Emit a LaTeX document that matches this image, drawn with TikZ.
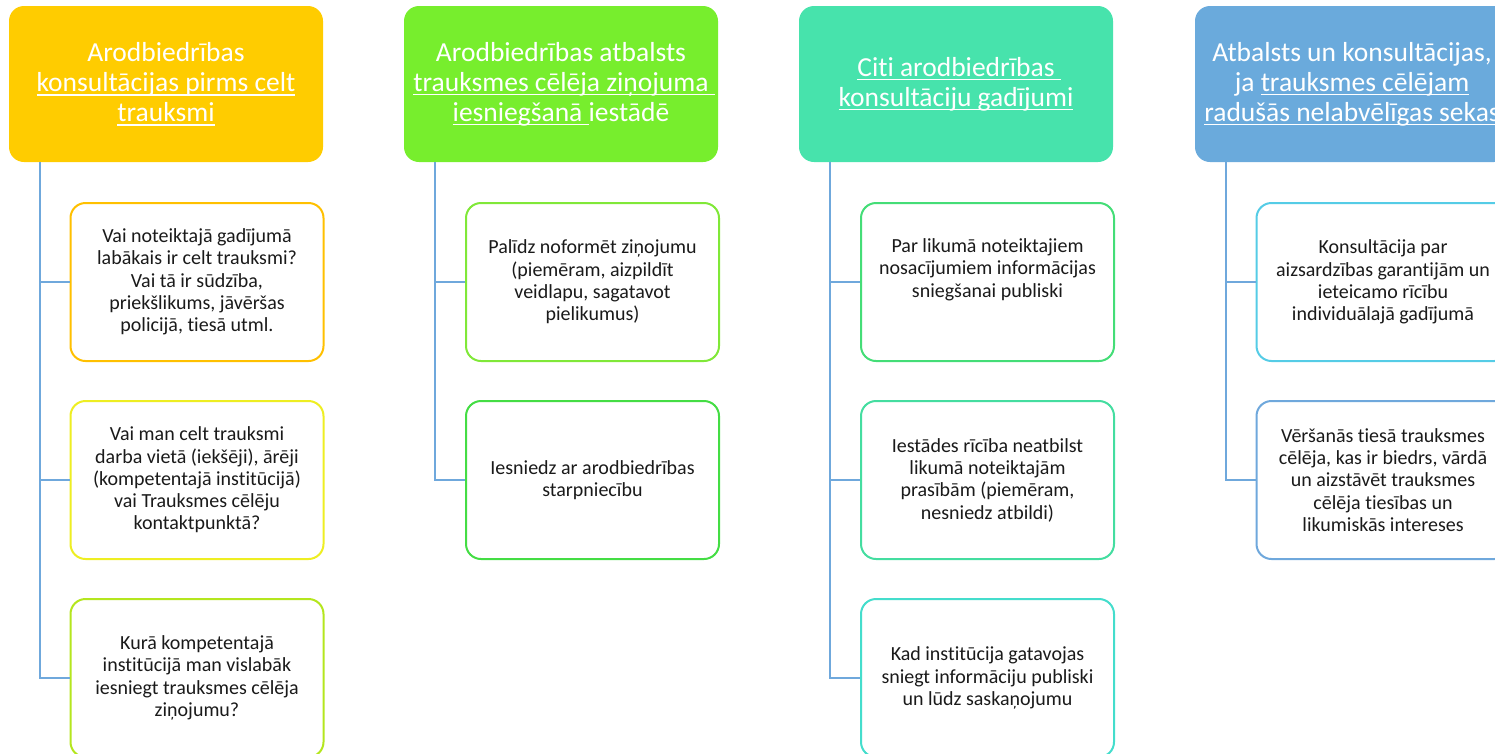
\documentclass[tikz,border=0pt]{standalone}
\usepackage{fontspec}
\setmainfont{Carlito}[Ligatures={NoCommon,NoContextual}]
\newlength\ulw
\newcommand\uln[1]{\settowidth\ulw{#1}\rlap{\rule[-4pt]{\ulw}{1.5pt}}#1}
\definecolor{hA}{HTML}{FFCC00}
\definecolor{hB}{HTML}{77EE2D}
\definecolor{hC}{HTML}{47E3AC}
\definecolor{hD}{HTML}{6AAADC}
\definecolor{bA1}{HTML}{FFC000}
\definecolor{bA2}{HTML}{EEEE22}
\definecolor{bA3}{HTML}{B4E61E}
\definecolor{bB1}{HTML}{80E838}
\definecolor{bB2}{HTML}{44DD44}
\definecolor{bC1}{HTML}{44DD77}
\definecolor{bC2}{HTML}{44DDA0}
\definecolor{bC3}{HTML}{44DDCC}
\definecolor{bD1}{HTML}{55CCE6}
\definecolor{bD2}{HTML}{6FA8DC}
\definecolor{conncol}{HTML}{6FA8DC}
\definecolor{txt}{HTML}{1A1A1A}
\tikzset{
  hdr/.style={rounded corners=15pt, minimum width=314pt, minimum height=156pt, inner sep=0pt,
    text=white, align=center, font=\fontsize{27.5}{30}\selectfont},
  child/.style={draw=#1, line width=2pt, fill=white, rounded corners=15pt, minimum width=253pt,
    minimum height=158pt, inner sep=0pt, text=txt, align=center, font=\fontsize{20}{22.3}\selectfont},
  conn/.style={draw=conncol, line width=2pt}
}
\begin{document}
\begin{tikzpicture}[x=1pt,y=-1pt]
\useasboundingbox (0,0) rectangle (1495,753);
\clip (0,0) rectangle (1495,753);
% headers
\node[hdr, fill=hA] (h1) at (166,84) {Arodbiedrības\\ \uln{konsultācijas pirms celt}\\ \uln{trauksmi}};
\node[hdr, fill=hB] (h2) at (561,84) {Arodbiedrības atbalsts\\ \uln{trauksmes cēlēja ziņojuma\ }\\ \uln{iesniegšanā\ }iestādē};
\node[hdr, fill=hC] (h3) at (956,84) {\uln{Citi arodbiedrības\ }\\ \uln{konsultāciju gadījumi}};
\node[hdr, fill=hD] (h4) at (1352,84) {Atbalsts un konsultācijas,\\ ja \uln{trauksmes cēlējam}\\ \uln{radušās nelabvēlīgas sekas}};
% column 1
\node[child=bA1] (c11) at (197,282) {Vai noteiktajā gadījumā\\ labākais ir celt trauksmi?\\ Vai tā ir sūdzība,\\ priekšlikums, jāvēršas\\ policijā, tiesā utml.};
\node[child=bA2] (c12) at (197,480) {Vai man celt trauksmi\\ darba vietā (iekšēji), ārēji\\ (kompetentajā institūcijā)\\ vai Trauksmes cēlēju\\ kontaktpunktā?};
\node[child=bA3] (c13) at (197,678) {Kurā kompetentajā\\ institūcijā man vislabāk\\ iesniegt trauksmes cēlēja\\ ziņojumu?};
% column 2
\node[child=bB1] (c21) at (592.5,282) {Palīdz noformēt ziņojumu\\ (piemēram, aizpildīt\\ veidlapu, sagatavot\\ pielikumus)};
\node[child=bB2] (c22) at (592.5,480) {Iesniedz ar arodbiedrības\\ starpniecību};
% column 3
\node[child=bC1] (c31) at (987.5,282) {Par likumā noteiktajiem\\ nosacījumiem informācijas\\ sniegšanai publiski\\[6pt]};
\node[child=bC2] (c32) at (987.5,480) {Iestādes rīcība neatbilst\\ likumā noteiktajām\\ prasībām (piemēram,\\ nesniedz atbildi)};
\node[child=bC3] (c33) at (987.5,678) {Kad institūcija gatavojas\\ sniegt informāciju publiski\\ un lūdz saskaņojumu};
% column 4
\node[child=bD1] (c41) at (1383,282) {Konsultācija par\\ aizsardzības garantijām un\\ ieteicamo rīcību\\ individuālajā gadījumā};
\node[child=bD2] (c42) at (1383,480) {Vēršanās tiesā trauksmes\\ cēlēja, kas ir biedrs, vārdā\\ un aizstāvēt trauksmes\\ cēlēja tiesības un\\ likumiskās intereses};
% connectors
\draw[conn] ([xshift=31pt]h1.south west) |- (c13.west);
\draw[conn] ([xshift=31pt]h1.south west) |- (c12.west);
\draw[conn] ([xshift=31pt]h1.south west) |- (c11.west);
\draw[conn] ([xshift=31pt]h2.south west) |- (c22.west);
\draw[conn] ([xshift=31pt]h2.south west) |- (c21.west);
\draw[conn] ([xshift=31pt]h3.south west) |- (c33.west);
\draw[conn] ([xshift=31pt]h3.south west) |- (c32.west);
\draw[conn] ([xshift=31pt]h3.south west) |- (c31.west);
\draw[conn] ([xshift=31pt]h4.south west) |- (c42.west);
\draw[conn] ([xshift=31pt]h4.south west) |- (c41.west);
\end{tikzpicture}
\end{document}
